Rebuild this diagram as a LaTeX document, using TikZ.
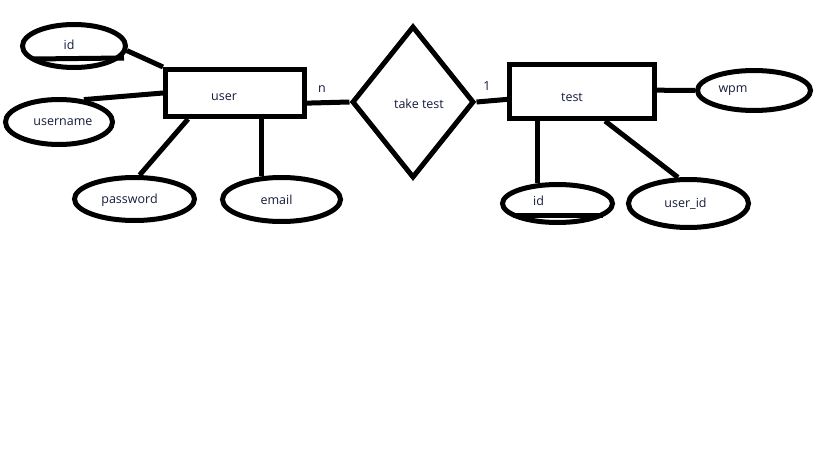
\documentclass[tikz,border=0pt]{standalone}
\usepackage{fontspec}
\setmainfont{Open Sans}
\usetikzlibrary{shapes.geometric,calc}
\definecolor{txt}{RGB}{22,28,60}
\tikzset{
  ent/.style={draw, rectangle, line width=5pt, inner sep=0pt},
  attr/.style={draw, ellipse, line width=5pt, inner sep=0pt},
  rel/.style={draw, diamond, line width=5pt, inner sep=0pt},
  con/.style={line width=5pt},
  lbl/.style={text=txt, font=\fontsize{12.5pt}{14pt}\selectfont},
}
\begin{document}
\begin{tikzpicture}[x=1pt, y=-1pt, every label/.style={lbl}]
\fill[white] (0,0) rectangle (819,460);
\useasboundingbox (0,0) rectangle (819,460);
% entities
\node[ent, minimum width=139pt, minimum height=47pt, label={[xshift=-11pt, yshift=-4pt]center:user}] (user) at (235,93) {};
\node[ent, minimum width=145pt, minimum height=54pt, label={[xshift=-10pt, yshift=-6pt]center:test}] (test) at (582,91.5) {};
% relationship
\node[rel, minimum width=122pt, minimum height=152pt, label={[xshift=6pt, yshift=-2pt]center:take test}] (take) at (413,102) {};
% attributes of user
\node[attr, minimum width=103pt, minimum height=43pt, label={[xshift=-5pt, yshift=1pt]center:id}] (uid) at (74,46) {};
\node[attr, minimum width=107pt, minimum height=45pt, label={[xshift=4pt]center:username}] (uname) at (59,122) {};
\node[attr, minimum width=120pt, minimum height=43pt, label={[xshift=-5pt, yshift=-1pt]center:password}] (pwd) at (134.5,199) {};
\node[attr, minimum width=118pt, minimum height=44pt, label={[xshift=-5pt]center:email}] (mail) at (281.5,199.5) {};
% attributes of test
\node[attr, minimum width=113pt, minimum height=40pt, label={[xshift=-21pt]center:wpm}] (wpm) at (754,90.5) {};
\node[attr, minimum width=110pt, minimum height=38pt, label={[xshift=-19pt, yshift=3pt]center:id}] (tid) at (557.5,203.5) {};
\node[attr, minimum width=120pt, minimum height=48pt, label={[xshift=-3pt]center:user\_id}] (tuid) at (688.5,203.5) {};
% key underlines
\draw[con] ($(uid.center)+(-41,13)$) -- ($(uid.center)+(50,12)$);
\draw[con] ($(tid.center)+(-44.5,11.5)$) -- ($(tid.center)+(45.5,11.5)$);
% connectors
\draw[con] (uid.-5) -- (user.north west);
\draw[con] (uname.42) -- (user.west);
\draw[con] (pwd.78) -- (user.-151);
\draw[con] (mail.131) -- (mail.131 |- user.south);
\draw[con] (user.-8) -- (take.west);
\draw[con] (take.east) -- (test.186);
\draw[con] (test.1) -- (wpm.west);
\draw[con] (tid.134) -- (tid.134 |- test.south);
\draw[con] (test.-52) -- (tuid.112);
% cardinalities
\node[lbl, anchor=center] (cn) at (322,89) {n};
\node[lbl, anchor=center] (c1) at (487,86) {1};
\end{tikzpicture}
\end{document}
